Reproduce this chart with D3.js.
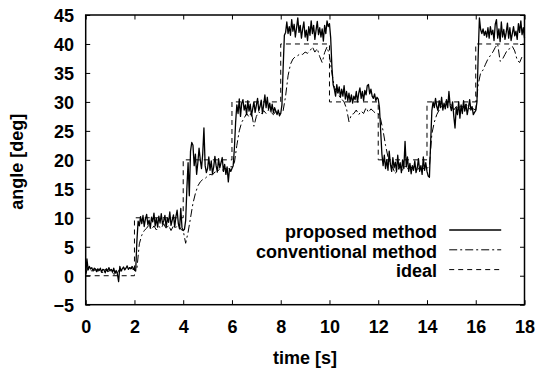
<!DOCTYPE html>
<html>
<head>
<meta charset="utf-8">
<script src="https://cdn.jsdelivr.net/npm/d3@7"></script>
<style>
  body { margin: 0; background: #fff; }
  text { font-family: "Liberation Sans", Arial, sans-serif; font-weight: bold; fill: #000; }
</style>
</head>
<body>
<svg width="539" height="372"></svg>
<script>
// ideal step input: level held from stepTimes[i] to stepTimes[i+1]
var stepTimes = [0, 2, 4, 6, 8, 10, 12, 14, 16, 18];
var idealLevels = [0, 10, 20, 30, 40, 30, 20, 30, 40];

// proposed method, sampled every 0.05 s from t=0
var propStep = 0.05;
var proposed = [
  0.2, 2.9, 1.0, 1.6, 1.2, 1.4, 0.8, 1.3, 1.1, 0.7,
  1.2, 0.9, 1.3, 0.6, 1.1, 1.0, 0.5, 1.2, 0.8, 1.4,
  0.9, 1.1, 0.6, 1.3, 0.4, 0.9, 0.3, -1.0, 1.6, 0.8,
  1.2, 1.5, 1.0, 1.3, 1.7, 1.1, 1.4, 1.2, 1.6, 1.3,
  1.0, 0.8, 6.0, 9.4, 8.6, 10.2, 9.0, 10.4, 8.5, 9.8,
  10.6, 8.8, 9.6, 8.2, 10.1, 9.3, 10.8, 8.6, 9.9, 8.4,
  10.3, 9.1, 10.7, 8.9, 9.5, 10.4, 8.3, 10.0, 9.2, 11.0,
  8.7, 9.6, 10.5, 8.4, 10.2, 11.3, 9.0, 8.1, 11.6, 8.3,
  7.8, 8.0, 9.5, 15.0, 19.5, 13.8, 21.5, 23.0, 22.5, 19.0,
  21.0, 17.5, 19.5, 22.0, 20.0, 18.5, 21.0, 25.5, 19.0, 17.8,
  18.5, 20.5, 18.2, 19.8, 17.6, 18.8, 20.6, 19.0, 17.9, 20.2,
  18.6, 19.5, 20.4, 18.0, 19.2, 17.5, 18.8, 16.2, 18.5, 18.0,
  18.5, 19.0, 22.0, 26.5, 29.5, 28.0, 30.5, 27.5, 29.8, 30.4,
  28.6, 29.5, 27.8, 30.2, 28.4, 29.6, 27.6, 28.8, 30.0, 28.2,
  29.4, 30.6, 28.5, 29.2, 30.3, 28.0, 29.5, 31.2, 29.0, 30.8,
  28.7, 29.8, 28.3, 29.6, 28.1, 29.0, 28.4, 27.8, 28.6, 27.6,
  28.0, 29.5, 36.0, 41.5, 42.0, 43.8, 41.8, 43.0, 41.5, 44.2,
  42.2, 43.4, 41.2, 42.8, 44.5, 42.0, 43.2, 41.0, 42.6, 43.8,
  41.2, 42.4, 40.6, 43.0, 41.5, 44.0, 41.8, 43.2, 40.8, 42.4,
  43.9, 41.6, 42.8, 41.2, 42.6, 40.5, 43.2, 41.8, 44.0, 43.0,
  43.5, 41.0, 36.0, 33.0, 32.2, 31.0, 33.0, 31.5, 32.6, 30.8,
  32.2, 31.0, 32.8, 30.5, 31.8, 30.2, 31.5, 30.0, 31.2, 29.8,
  31.0, 30.4, 31.8, 30.0, 31.5, 32.4, 30.6, 31.8, 30.2, 32.0,
  31.2, 32.8, 33.0, 31.4, 32.2, 31.0, 30.6, 31.4, 30.2, 30.8,
  30.5, 29.0, 25.0, 21.0, 19.0, 20.8, 18.5, 20.0, 18.2, 21.5,
  19.2, 18.0, 20.4, 18.6, 19.6, 18.0, 20.8, 18.4, 19.5, 17.8,
  20.0, 18.5, 23.2, 18.8, 20.5, 18.0, 19.4, 17.6, 19.0, 18.2,
  19.8, 17.8, 18.6, 20.2, 18.0, 19.0, 17.5, 20.5, 18.2, 19.5,
  18.0, 17.2, 17.0, 23.0, 28.5, 30.0, 29.0, 30.6, 29.2, 28.5,
  30.2, 29.0, 30.8, 28.6, 29.8, 28.8, 30.4, 29.0, 31.8, 29.4,
  28.5, 30.0, 27.5, 25.5, 29.0, 27.8, 30.0, 27.2, 29.5, 28.0,
  30.2, 28.4, 29.6, 27.8, 29.0, 30.4, 28.6, 29.2, 27.8, 28.2,
  28.5, 30.0, 38.0, 44.5, 42.5, 41.8, 42.6, 41.5, 42.2, 41.2,
  42.8, 41.0, 43.0, 41.6, 42.4, 40.6, 43.4, 44.2, 41.0, 42.6,
  40.4, 43.8, 41.2, 42.5, 40.8, 42.0, 43.6, 41.0, 42.8, 40.6,
  41.8, 43.0, 41.4, 42.2, 40.8, 43.5, 42.0, 44.0, 41.6, 42.8,
  41.0
];

// conventional method, sampled every 0.1 s from t=0
var convStep = 0.1;
var conventional = [
  0.3, 1.5, 1.0, 0.6, 1.2, 0.8, 1.0, 0.5, 1.1, 0.7,
  0.9, 0.4, 0.2, 0.5, 1.2, 0.9, 1.3, 1.0, 1.4, 1.2,
  1.0, 1.2, 5.5, 7.0, 7.8, 8.2, 8.8, 8.0, 8.6, 7.9,
  8.5, 8.2, 9.0, 8.1, 8.7, 7.8, 8.6, 8.3, 8.9, 8.0,
  7.8, 5.6, 7.5, 10.0, 12.5, 14.2, 15.5, 16.2, 16.6, 16.8,
  17.2, 17.5, 17.4, 17.9, 18.0, 18.4, 18.2, 18.6, 18.3, 18.8,
  18.8, 19.5, 22.5, 25.0, 26.5, 27.2, 28.0, 27.4, 28.2, 25.8,
  27.5, 28.3, 27.8, 28.5, 28.0, 28.6, 28.2, 27.8, 28.4, 28.0,
  28.0, 28.5, 31.0, 34.5, 36.5, 37.4, 37.8, 38.0, 38.3, 38.2,
  38.6, 38.4, 38.8, 39.5, 38.6, 39.2, 37.8, 36.8, 38.5, 39.5,
  38.0, 35.0, 32.5, 31.8, 31.0, 30.5, 30.0, 28.8, 26.6, 27.8,
  28.0, 28.6, 27.8, 28.4, 28.0, 29.0, 28.2, 28.8, 28.4, 28.0,
  28.0, 27.0, 25.0, 22.5, 20.5, 19.2, 18.6, 17.6, 18.4, 18.8,
  18.2, 18.9, 18.4, 19.0, 18.5, 18.8, 18.2, 18.7, 18.4, 18.6,
  18.5, 19.0, 24.5, 26.5, 27.8, 28.6, 29.2, 29.0, 29.6, 30.2,
  29.4, 28.6, 29.2, 28.8, 29.5, 29.0, 29.6, 29.0, 28.6, 28.8,
  28.6, 33.0, 35.0, 35.5, 36.5, 37.4, 38.0, 38.6, 39.4, 40.0,
  37.0, 37.4, 38.2, 39.0, 39.2, 39.6, 38.8, 37.2, 36.8, 37.8,
  38.0
];

var xTicks = [0, 2, 4, 6, 8, 10, 12, 14, 16, 18];
var yTicks = [-5, 0, 5, 10, 15, 20, 25, 30, 35, 40, 45];
var seriesNames = ["proposed method", "conventional method", "ideal"];

var margin = {top: 15, right: 14.5, bottom: 67.3, left: 85.7},
    width = 539 - margin.left - margin.right,
    height = 372 - margin.top - margin.bottom;

var fontSize = "18px";

var svg = d3.select("svg");
var g = svg.append("g")
    .attr("transform", "translate(" + margin.left + "," + margin.top + ")");

var x = d3.scaleLinear().domain([0, 18]).range([0, width]);
var y = d3.scaleLinear().domain([-5, 45]).range([height, 0]);

// ticks point inward on all four sides
var tick = 4.5;
var xb = g.append("g")
    .attr("transform", "translate(0," + height + ")")
    .call(d3.axisBottom(x).tickValues(xTicks).tickSizeInner(-tick).tickSizeOuter(0));
xb.selectAll("text")
    .attr("y", 28.5).attr("dy", null)
    .style("font-size", fontSize);

var yl = g.append("g")
    .call(d3.axisLeft(y).tickValues(yTicks).tickSizeInner(-tick).tickSizeOuter(0));
yl.selectAll("text")
    .attr("x", -11.7).attr("dy", null).attr("y", 6.8)
    .style("font-size", fontSize);

g.append("g")
    .call(d3.axisTop(x).tickValues(xTicks).tickSizeInner(-tick).tickSizeOuter(0).tickFormat(""));
g.append("g")
    .attr("transform", "translate(" + width + ",0)")
    .call(d3.axisRight(y).tickValues(yTicks).tickSizeInner(-tick).tickSizeOuter(0).tickFormat(""));

g.selectAll(".domain").remove();
g.selectAll(".tick line").attr("stroke", "#000").attr("stroke-width", 1);

// series
var idealPts = stepTimes.map(function(t, i) {
  return {t: t, v: idealLevels[Math.min(i, idealLevels.length - 1)]};
});
var propPts = proposed.map(function(v, i) { return {t: i * propStep, v: v}; });
var convPts = conventional.map(function(v, i) { return {t: i * convStep, v: v}; });

var line = d3.line().x(function(d) { return x(d.t); }).y(function(d) { return y(d.v); });
var stepLine = d3.line().curve(d3.curveStepAfter)
    .x(function(d) { return x(d.t); }).y(function(d) { return y(d.v); });

var styles = [
  {w: 1.3, dash: null},
  {w: 1.0, dash: "8,3,2,3"},
  {w: 1.0, dash: "5,4"}
];

g.append("path").datum(idealPts)
    .attr("d", stepLine)
    .attr("fill", "none").attr("stroke", "#000")
    .attr("stroke-width", styles[2].w).attr("stroke-dasharray", styles[2].dash);

g.append("path").datum(convPts)
    .attr("d", line)
    .attr("fill", "none").attr("stroke", "#000")
    .attr("stroke-width", styles[1].w).attr("stroke-dasharray", styles[1].dash);

g.append("path").datum(propPts)
    .attr("d", line)
    .attr("fill", "none").attr("stroke", "#000")
    .attr("stroke-width", styles[0].w).attr("stroke-linejoin", "round");

// frame
g.append("rect")
    .attr("width", width).attr("height", height)
    .attr("fill", "none").attr("stroke", "#000").attr("stroke-width", 1.5);

// legend
var legend = g.selectAll(".legend")
    .data(seriesNames)
    .enter().append("g")
    .attr("class", "legend")
    .attr("transform", function(d, i) { return "translate(0," + (215 + i * 19.8) + ")"; });

legend.append("text")
    .attr("x", 351.3).attr("y", 7.8)
    .attr("text-anchor", "end")
    .style("font-size", fontSize)
    .text(function(d) { return d; });

legend.append("line")
    .attr("x1", 363.5).attr("x2", 415.5)
    .attr("stroke", "#000")
    .attr("stroke-width", function(d, i) { return styles[i].w; })
    .attr("stroke-dasharray", function(d, i) { return styles[i].dash; });

// axis titles
svg.append("text")
    .attr("x", margin.left + width / 2).attr("y", 364)
    .attr("text-anchor", "middle")
    .style("font-size", fontSize)
    .text("time [s]");

svg.append("text")
    .attr("transform", "translate(23," + (margin.top + height / 2 + 2) + ") rotate(-90)")
    .attr("text-anchor", "middle")
    .style("font-size", fontSize)
    .text("angle [deg]");
</script>
</body>
</html>
